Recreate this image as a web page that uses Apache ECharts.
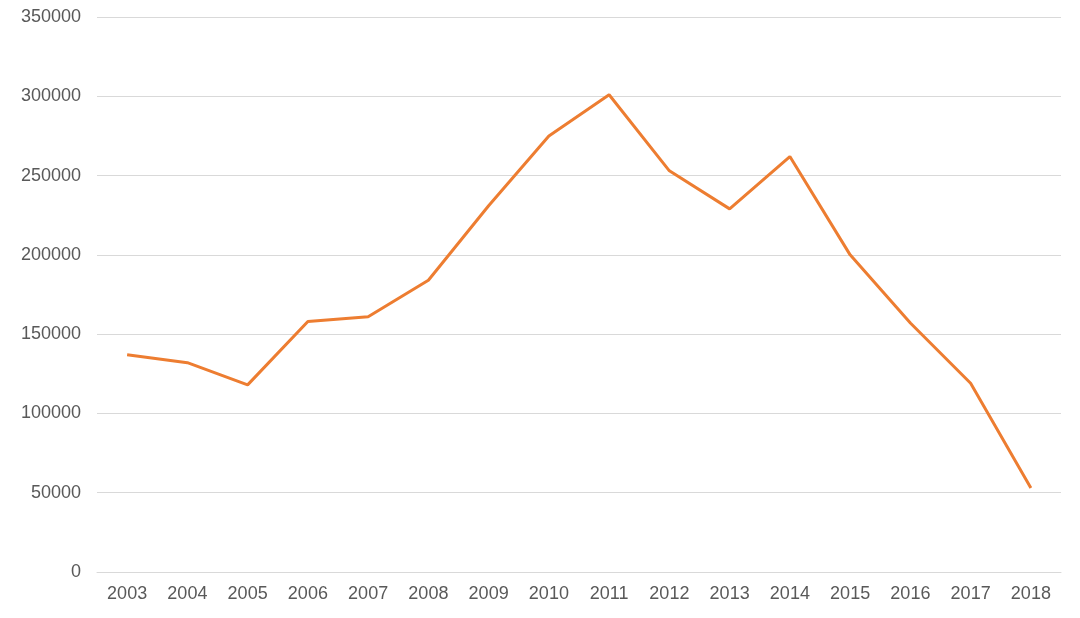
<!DOCTYPE html>
<html><head><meta charset="utf-8">
<script src="https://cdn.jsdelivr.net/npm/echarts@6/dist/echarts.min.js"></script>
<style>html,body{margin:0;padding:0;background:#fff}#c{width:1080px;height:618px}</style>
</head><body><div id="c"></div>
<script>
const years = ['2003','2004','2005','2006','2007','2008','2009','2010','2011','2012','2013','2014','2015','2016','2017','2018'];
const values = [137000,132000,118000,158000,161000,184000,231000,275000,301000,253000,229000,262000,200000,157000,119000,53000];
const yTicks = {min:0, max:350000, interval:50000};
const chart = echarts.init(document.getElementById('c'));
const font = '"Liberation Sans", Arial, sans-serif';
chart.setOption({
  animation:false,
  grid:{left:97, right:19, top:17, bottom:46, containLabel:false},
  xAxis:{type:'category', data:years, boundaryGap:true,
    axisLine:{show:true, lineStyle:{color:'#d9d9d9', width:1}},
    axisTick:{show:false},
    axisLabel:{color:'#595959', fontSize:18, fontFamily:font, margin:13}},
  yAxis:{type:'value', min:yTicks.min, max:yTicks.max, interval:yTicks.interval,
    axisLine:{show:false}, axisTick:{show:false},
    splitLine:{lineStyle:{color:'#d9d9d9', width:1}},
    axisLabel:{color:'#595959', fontSize:18, fontFamily:font, margin:16, formatter: v => String(v)}},
  series:[{type:'line', data:values, symbol:'none', smooth:false,
    lineStyle:{color:'#ED7D31', width:3}, itemStyle:{color:'#ED7D31'}}]
});
</script></body></html>
